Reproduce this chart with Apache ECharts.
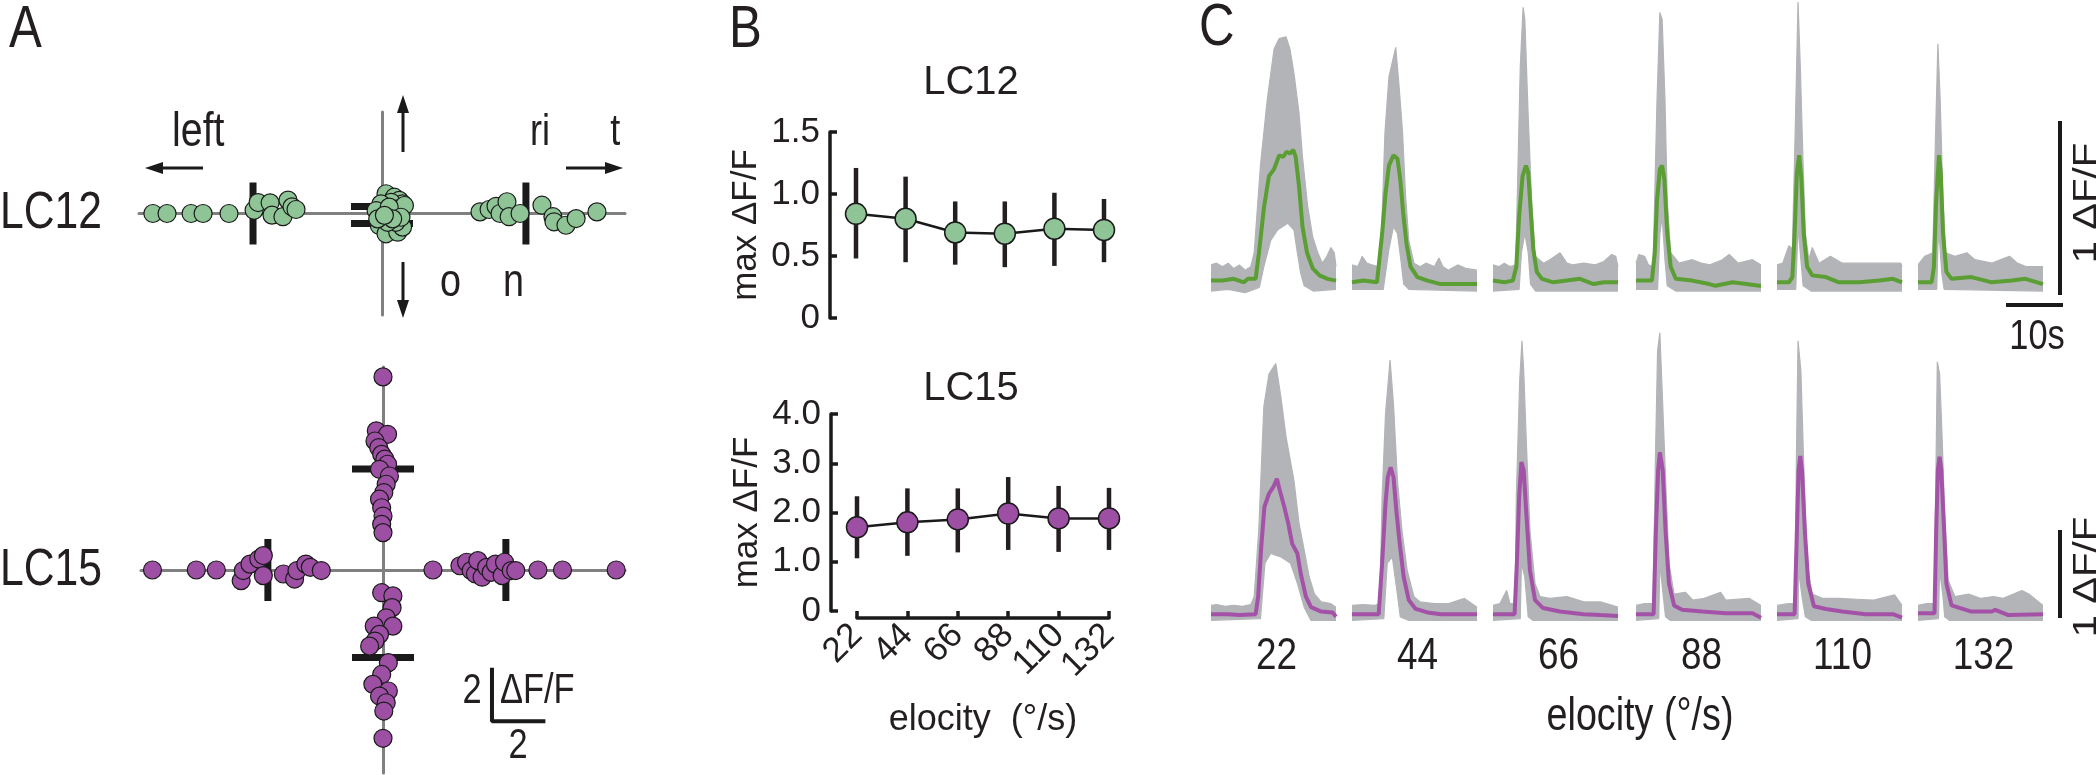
<!DOCTYPE html>
<html><head><meta charset="utf-8">
<script src="https://cdn.jsdelivr.net/npm/echarts@6/dist/echarts.min.js"></script>
<style>html,body{margin:0;padding:0;background:#fff}#c{width:2100px;height:775px}</style>
</head><body><div id="c"></div>
<script>
// ---------------- DATA ----------------
// Panel A: distance from centre (ΔF/F) and small perpendicular offset for each cell
const lc12LeftDist  = [8.58,8.05,7.15,6.70,5.73,4.79,4.64,4.19,4.12,3.71,3.52,3.37,3.22];
const lc12LeftOff   = [0,0,0,0,0,0.12,0.41,0.40,-0.06,-0.12,0.50,0.25,0.15];
const lc12RightDist = [3.67,4.01,4.27,4.42,4.68,4.76,5.17,5.99,6.40,6.44,6.89,7.27,8.05];
const lc12RightOff  = [0.06,0.15,0.27,0,0.44,-0.12,0,0.31,-0.12,-0.31,-0.44,-0.19,0.06];
const lc12UpDist    = [0.74,0.61,0.49,0.36,0.42,0.36,0.11,0.17,0.30,0.24];
const lc12UpOff     = [0.15,0.46,0.65,0.77,0.34,-0.04,-0.22,0.59,0.84,0.27];
const lc12DownDist  = [0.45,0.76,0.70,0.51,0.33,0.33,0.14,0.20,0.20,0.07];
const lc12DownOff   = [-0.10,0.15,0.59,0.77,0.52,0.21,0.71,0.40,-0.16,0.09];
const lc12ArmMeans  = [4.83,5.39,0.26,0.37]; // left, right, up, down

const lc15LeftDist  = [8.63,6.99,6.24,5.31,5.23,4.98,4.65,4.48,4.48,3.73,3.31,3.22,2.89,2.72,2.31];
const lc15LeftOff   = [0,0,0,-0.40,-0.02,0.22,0.41,0.54,-0.21,-0.15,-0.34,-0.02,0.22,0.10,-0.02];
const lc15RightDist = [1.87,2.88,3.13,3.30,3.46,3.55,3.71,3.88,4.05,4.21,4.46,4.55,4.80,4.97,5.80,6.72,8.73];
const lc15RightOff  = [0,0.16,0.29,-0.02,-0.15,0.35,-0.27,0.10,-0.09,0.22,-0.21,0.29,-0.02,-0.02,0,0,0];
const lc15UpDist    = [7.23,5.21,5.08,4.83,4.58,4.33,4.15,3.96,3.77,3.52,3.21,2.90,2.65,2.33,2.02,1.71,1.40];
const lc15UpOff     = [0,-0.25,0.17,-0.30,-0.16,-0.05,0.07,0.17,-0.13,0.24,0.12,0.03,-0.13,-0.05,0,-0.05,0];
const lc15DownDist  = [0.85,0.97,1.41,1.79,2.10,2.10,2.41,2.66,2.85,3.47,3.91,4.28,4.53,4.72,4.97,5.28,6.30];
const lc15DownOff   = [-0.05,0.37,0.34,0.12,0.37,-0.33,-0.13,-0.30,-0.50,0.20,-0.05,-0.38,0.20,-0.13,0.12,0.03,0];
const lc15ArmMeans  = [4.31,4.60,3.78,3.28]; // left, right, up, down
const aScaleBar = [4.08,-5.66,2]; // corner x, corner y, length (ΔF/F)

// Panel B
const velocities = ['22','44','66','88','110','132'];
const lc12Max = [0.84,0.80,0.69,0.68,0.72,0.71];
const lc12Hi  = [1.21,1.14,0.94,0.94,1.01,0.96];
const lc12Lo  = [0.48,0.45,0.43,0.41,0.42,0.45];
const lc15Max = [1.70,1.80,1.86,1.98,1.88,1.88];
const lc15Hi  = [2.33,2.49,2.49,2.72,2.54,2.50];
const lc15Lo  = [1.07,1.12,1.19,1.24,1.20,1.24];

// Panel C: [time s, ΔF/F] mean trace and the envelope of the single-cell traces
const lc12TraceMean = [
 [[0,0],[2,0],[4,0.01],[5.8,-0.01],[6.5,0.01],[7.85,0.01],[8.44,0.16],[9.32,0.42],[10.2,0.6],[11.1,0.64],[12.0,0.72],[12.7,0.71],[13.3,0.74],[13.9,0.73],[14.5,0.75],[14.9,0.71],[15.5,0.54],[16.1,0.31],[16.9,0.16],[17.9,0.07],[19.1,0.03],[20.5,0.01],[22,0]],
 [[0,-0.01],[2,0],[4.4,-0.01],[4.7,0],[5.3,0.27],[5.9,0.5],[6.5,0.66],[7.3,0.72],[8.0,0.70],[8.5,0.58],[9.0,0.39],[9.6,0.21],[10.3,0.08],[11.5,0.02],[13.3,0],[15.6,-0.02],[18.0,-0.02],[20.4,-0.02],[22,-0.02]],
 [[0,0],[2,-0.01],[3.5,0],[4.1,0.08],[4.6,0.37],[5.2,0.6],[5.8,0.66],[6.2,0.62],[6.7,0.37],[7.1,0.18],[7.7,0.05],[8.6,0.01],[10.6,-0.01],[13,0],[15.3,0.01],[17.7,-0.02],[19.5,-0.01],[22,-0.01]],
 [[0,0],[2.8,0],[3.3,0.16],[3.7,0.46],[4.2,0.64],[4.6,0.66],[5.0,0.58],[5.5,0.27],[6.1,0.08],[7.0,0.01],[9.9,0],[12.9,-0.02],[14.0,-0.03],[17.0,-0.01],[19.4,-0.02],[21.7,-0.03],[22,-0.03]],
 [[0,-0.01],[2.1,-0.01],[2.7,0.02],[3.1,0.27],[3.5,0.62],[3.9,0.72],[4.3,0.58],[4.7,0.27],[5.3,0.08],[6.2,0.03],[8.6,0.02],[10.9,-0.01],[14.5,-0.01],[18.0,0],[20.4,0.01],[22,-0.01]],
 [[0,-0.01],[2.4,-0.01],[2.8,0.08],[3.2,0.46],[3.7,0.72],[4.0,0.62],[4.4,0.27],[5.0,0.05],[5.9,0.01],[9.4,0.02],[13.0,-0.01],[16.5,0],[18.9,0.01],[22,-0.02]]
];
const lc12TraceUpper = [
 [[0,0.09],[1,0.1],[2,0.08],[3,0.1],[4,0.07],[5,0.09],[6,0.06],[7,0.08],[7.6,0.16],[8.7,0.66],[9.9,1.04],[11.1,1.33],[12.0,1.39],[13.2,1.4],[13.9,1.33],[14.6,1.19],[15.5,0.96],[16.1,0.71],[17.0,0.43],[17.9,0.25],[18.8,0.16],[19.6,0.1],[20.4,0.14],[21.1,0.19],[21.7,0.16],[22,0.08]],
 [[0,0.09],[1,0.08],[1.8,0.14],[2.6,0.1],[3.5,0.09],[4.5,0.08],[5.0,0.08],[5.8,0.85],[6.5,1.17],[7.7,1.34],[8.3,1.11],[8.9,0.85],[9.4,0.5],[10.0,0.23],[10.9,0.1],[12,0.08],[13,0.1],[14.5,0.08],[15.3,0.13],[16,0.08],[17,0.06],[18.6,0.09],[20,0.07],[22,0.06]],
 [[0,0.09],[1,0.08],[2,0.1],[3,0.08],[4.0,0.09],[4.4,0.66],[4.8,1.23],[5.3,1.57],[5.6,1.5],[6.2,0.94],[6.8,0.46],[7.4,0.14],[8.9,0.1],[10,0.12],[11.8,0.16],[13,0.1],[14,0.09],[16,0.1],[18,0.09],[19.5,0.11],[20.9,0.15],[21.6,0.14],[22,0.08]],
 [[0,0.1],[0.5,0.15],[1.5,0.14],[2.2,0.09],[3.0,0.08],[3.7,1.04],[4.2,1.54],[4.6,1.5],[5.1,1.04],[5.5,0.46],[6.1,0.16],[7.6,0.1],[9.9,0.12],[11.5,0.1],[13,0.09],[15.2,0.12],[16.4,0.15],[18,0.1],[20.5,0.12],[22,0.09]],
 [[0,0.09],[1,0.1],[2.1,0.2],[2.7,0.18],[3.2,0.85],[3.7,1.6],[4.1,1.23],[4.6,0.66],[5.0,0.27],[5.6,0.12],[6.2,0.19],[7.4,0.1],[9.4,0.14],[11.5,0.1],[14.5,0.1],[18,0.1],[20.4,0.1],[21.8,0.1],[22,0.08]],
 [[0,0.09],[1.2,0.14],[2.6,0.16],[3.1,0.85],[3.5,1.36],[3.9,1.04],[4.4,0.46],[4.9,0.16],[6.5,0.14],[8.6,0.16],[10,0.12],[13,0.1],[16.1,0.14],[17.5,0.1],[19,0.08],[22,0.08]]
];
const lc12TraceLower = [
 [[0,-0.06],[3,-0.05],[6,-0.07],[8.5,-0.04],[9.3,0.08],[10.5,0.23],[11.7,0.29],[13.5,0.33],[14.6,0.29],[15.2,0.16],[15.8,0.04],[16.4,-0.03],[18,-0.06],[22,-0.05]],
 [[0,-0.05],[5.5,-0.05],[6.5,0.18],[7.3,0.31],[8.0,0.27],[8.6,0.12],[9.1,-0.02],[10,-0.05],[22,-0.06]],
 [[0,-0.06],[4.6,-0.05],[5.0,0.16],[5.6,0.27],[6.2,0.16],[6.6,-0.02],[7.5,-0.06],[22,-0.06]],
 [[0,-0.05],[3.8,-0.05],[4.2,0.27],[4.6,0.37],[5.1,0.12],[5.5,-0.03],[7,-0.06],[22,-0.06]],
 [[0,-0.05],[3.3,-0.05],[3.7,0.31],[4.1,0.16],[4.6,-0.03],[6,-0.06],[22,-0.06]],
 [[0,-0.05],[3.3,-0.05],[3.5,0.2],[3.7,0.27],[4.2,0.04],[4.6,-0.05],[22,-0.06]]
];
const lc15TraceMean = [
 [[0,0],[3,0],[5,-0.01],[7.85,0],[8.3,0.2],[8.85,0.77],[9.4,1.22],[10.2,1.37],[11.0,1.45],[11.6,1.54],[12.1,1.41],[12.9,1.22],[13.6,1.03],[14.3,0.8],[15.2,0.69],[15.8,0.46],[16.7,0.2],[17.6,0.08],[19.4,0.03],[21.4,0.02],[22,-0.03]],
 [[0,0],[4.7,0],[5.3,0.58],[5.9,1.26],[6.3,1.56],[6.8,1.67],[7.3,1.56],[7.8,1.18],[8.4,0.8],[9.1,0.42],[10.0,0.16],[11.2,0.06],[13.3,0.02],[15.6,0],[19.2,0],[22,0]],
 [[0,0],[3.8,0],[4.2,0.58],[4.6,1.33],[5.0,1.73],[5.4,1.64],[5.9,1.11],[6.5,0.5],[7.4,0.16],[8.8,0.07],[11.8,0.03],[15.9,0],[18.9,-0.01],[22,-0.02]],
 [[0,0],[3.1,0],[3.5,0.95],[3.9,1.64],[4.2,1.84],[4.7,1.64],[5.2,0.95],[5.8,0.35],[6.7,0.1],[8.1,0.05],[11.7,0.03],[15.8,0.01],[20.5,0.01],[22,-0.04]],
 [[0,0],[3.1,0],[3.5,0.95],[3.8,1.64],[4.1,1.8],[4.4,1.64],[4.9,0.95],[5.5,0.35],[6.5,0.09],[8.6,0.06],[11.5,0.03],[15.6,0],[20.4,0],[22,-0.04]],
 [[0,0.01],[2.9,0.01],[3.2,0.95],[3.5,1.64],[3.8,1.79],[4.1,1.64],[4.6,0.95],[5.0,0.35],[5.9,0.1],[9.4,0.03],[13.0,0.03],[13.6,0.05],[15.9,-0.01],[22,0]]
];
const lc15TraceUpper = [
 [[0,0.1],[1,0.11],[2.5,0.09],[4,0.1],[5.5,0.09],[7,0.11],[7.6,0.2],[8.4,0.95],[9.3,2.36],[10.2,2.73],[11.4,2.85],[12.3,2.47],[13.2,2.02],[14.6,1.52],[15.5,1.03],[16.4,0.73],[17.3,0.42],[18.2,0.23],[19.4,0.14],[21.1,0.12],[22,0.08]],
 [[0,0.1],[2,0.11],[4,0.1],[4.9,0.12],[5.3,1.33],[5.9,2.28],[6.7,2.89],[7.3,2.39],[8.0,1.52],[8.8,0.95],[9.7,0.5],[10.9,0.2],[12,0.14],[14.5,0.12],[17,0.12],[19.8,0.18],[22,0.08]],
 [[0,0.1],[1.2,0.12],[2.4,0.27],[3,0.12],[3.9,0.12],[4.1,1.33],[4.7,2.66],[5.1,3.11],[5.4,2.77],[5.9,1.9],[6.5,0.95],[7.4,0.35],[8.3,0.2],[10,0.18],[13,0.2],[16,0.14],[18.9,0.14],[22,0.08]],
 [[0,0.1],[1.5,0.12],[3.0,0.12],[3.4,1.71],[3.8,3.0],[4.2,3.2],[4.6,2.55],[5.1,1.71],[5.8,0.58],[6.7,0.23],[8.7,0.25],[10,0.16],[12,0.18],[14.9,0.25],[15.8,0.16],[19.9,0.18],[22,0.1]],
 [[0,0.1],[2,0.12],[3.2,0.12],[3.4,1.71],[3.7,3.11],[4.2,2.77],[4.7,1.71],[5.3,0.58],[6.2,0.23],[8,0.18],[11,0.18],[14,0.17],[17,0.16],[20.7,0.22],[22,0.1]],
 [[0,0.1],[1.5,0.12],[2.9,0.12],[3.1,1.33],[3.4,2.87],[3.8,2.73],[4.2,2.09],[4.7,1.14],[5.3,0.39],[6.5,0.2],[8.9,0.23],[11,0.18],[13.3,0.2],[15,0.18],[18.3,0.27],[19.5,0.23],[22,0.1]]
];
const lc15TraceLower = [
 [[0,-0.07],[8.7,-0.05],[9.5,0.58],[10.5,0.69],[12.3,0.65],[14.0,0.58],[15.2,0.35],[16.4,0.08],[17.6,-0.07],[22,-0.07]],
 [[0,-0.07],[5.6,-0.05],[6.2,0.58],[7.1,0.65],[7.9,0.27],[8.5,-0.03],[10,-0.07],[22,-0.07]],
 [[0,-0.07],[4.8,-0.05],[5.0,0.58],[5.6,0.42],[6.2,-0.03],[7,-0.07],[22,-0.07]],
 [[0,-0.07],[4.0,-0.05],[4.2,0.58],[4.7,0.27],[5.2,-0.03],[6,-0.07],[22,-0.07]],
 [[0,-0.07],[3.7,-0.05],[3.8,0.5],[4.4,0.2],[5.0,-0.03],[6,-0.07],[22,-0.07]],
 [[0,-0.07],[3.6,-0.05],[3.8,0.5],[4.4,0.2],[4.7,-0.03],[5.5,-0.07],[22,-0.07]]
];

// ---------------- STYLE / LAYOUT ----------------
const FONT = 'Liberation Sans, Arial, sans-serif';
const INK = '#231f20';
const GREEN = '#8fc596', PURPLE = '#9c4fa3', EDGE = '#1a1a1a';
const AXIS_GRAY = '#808080', TRACE_GRAY = '#b2b4b7';
const LINE_GREEN = '#5b9e34', LINE_PURPLE = '#a452a8';
const NARROW = 0.82; // horizontal squeeze for the condensed lettering of panels A and C

const chart = echarts.init(document.getElementById('c'), null, {renderer: 'canvas'});

const grid = [], xAxis = [], yAxis = [], series = [];
function addGrid(g) { grid.push(Object.assign({outerBoundsMode: 'none', containLabel: false}, g)); return grid.length - 1; }

// ---- Panel A ----
function crossAxes(gi, xr, yr) {
  const ax = {gridIndex: gi, type: 'value', min: -xr, max: xr,
    axisLine: {show: true, onZero: true, lineStyle: {color: AXIS_GRAY, width: 3}},
    axisTick: {show: false}, axisLabel: {show: false}, splitLine: {show: false}};
  xAxis.push(ax);
  yAxis.push(Object.assign({}, ax, {min: -yr, max: yr}));
}
function arm(dist, off, dir) {
  return dist.map((d, i) => {
    const o = off[i];
    if (dir === 'left') return [-d, o];
    if (dir === 'right') return [d, o];
    if (dir === 'up') return [o, d];
    return [o, -d];
  });
}
function crossSeries(ai, arms, means, fill) {
  series.push({type: 'scatter', xAxisIndex: ai, yAxisIndex: ai, symbol: 'rect', symbolSize: [7, 62],
    itemStyle: {color: EDGE, opacity: 1}, z: 2, silent: true,
    data: [[-means[0], 0], [means[1], 0]]});
  series.push({type: 'scatter', xAxisIndex: ai, yAxisIndex: ai, symbol: 'rect', symbolSize: [62, 7],
    itemStyle: {color: EDGE, opacity: 1}, z: 2, silent: true,
    data: [[0, means[2]], [0, -means[3]]]});
  series.push({type: 'scatter', xAxisIndex: ai, yAxisIndex: ai, symbol: 'circle', symbolSize: 18,
    itemStyle: {color: fill, borderColor: EDGE, borderWidth: 1.2, opacity: 1}, z: 3, silent: true,
    data: [].concat(arm(arms[0], arms[1], 'left'), arm(arms[2], arms[3], 'right'),
                    arm(arms[4], arms[5], 'up'), arm(arms[6], arms[7], 'down'))});
}
let gi = addGrid({left: 139, top: 112, width: 486, height: 203});
crossAxes(gi, 9.1, 3.8);
crossSeries(gi, [lc12LeftDist, lc12LeftOff, lc12RightDist, lc12RightOff, lc12UpDist, lc12UpOff, lc12DownDist, lc12DownOff], lc12ArmMeans, GREEN);
gi = addGrid({left: 141, top: 367, width: 484, height: 406});
crossAxes(gi, 9.06, 7.6);
crossSeries(gi, [lc15LeftDist, lc15LeftOff, lc15RightDist, lc15RightOff, lc15UpDist, lc15UpOff, lc15DownDist, lc15DownOff], lc15ArmMeans, PURPLE);
series.push({type: 'line', xAxisIndex: gi, yAxisIndex: gi, symbol: 'none', silent: true,
  lineStyle: {color: EDGE, width: 4}, z: 4,
  data: [[aScaleBar[0], aScaleBar[1] + aScaleBar[2]], [aScaleBar[0], aScaleBar[1]], [aScaleBar[0] + aScaleBar[2], aScaleBar[1]]]});

// ---- Panel B ----
const axisStyle = {color: EDGE, width: 3.5};
function errRender(params, api) {
  const x = api.value(0);
  const p1 = api.coord([x, api.value(1)]);
  const p2 = api.coord([x, api.value(2)]);
  return {type: 'line', shape: {x1: p1[0], y1: p1[1], x2: p2[0], y2: p2[1]},
          style: {stroke: INK, lineWidth: 4.5}};
}
function bPanel(g, yMax, yInt, showX, maxv, lo, hi, fill) {
  const i = addGrid(g);
  xAxis.push({gridIndex: i, type: 'category', data: velocities, boundaryGap: false,
    show: showX, offset: 7,
    axisLine: {show: true, onZero: false, lineStyle: axisStyle},
    axisTick: {show: true, inside: true, length: 7, interval: 0, lineStyle: axisStyle},
    axisLabel: {rotate: 45, interval: 0, fontSize: 35, fontFamily: FONT, color: INK, margin: 12},
    name: 'elocity  (°/s)', nameLocation: 'middle', nameGap: 84,
    nameTextStyle: {fontSize: 36, fontFamily: FONT, color: INK}});
  yAxis.push({gridIndex: i, type: 'value', min: 0, max: yMax, interval: yInt, offset: 26,
    axisLine: {show: true, lineStyle: axisStyle},
    axisTick: {show: true, inside: true, length: 7, lineStyle: axisStyle},
    axisLabel: {fontSize: 35, fontFamily: FONT, color: INK, margin: 10,
      formatter: v => v === 0 ? '0' : v.toFixed(1)},
    splitLine: {show: false},
    name: 'max ΔF/F', nameLocation: 'middle', nameGap: 66, nameRotate: 90,
    nameTextStyle: {fontSize: 35, fontFamily: FONT, color: INK}});
  series.push({type: 'custom', xAxisIndex: i, yAxisIndex: i, renderItem: errRender, z: 2, silent: true,
    data: velocities.map((v, k) => [k, lo[k], hi[k]])});
  series.push({type: 'line', xAxisIndex: i, yAxisIndex: i, data: maxv, z: 3, silent: true,
    symbol: 'circle', symbolSize: 21, showAllSymbol: true,
    itemStyle: {color: fill, borderColor: EDGE, borderWidth: 1.5, opacity: 1},
    lineStyle: {color: EDGE, width: 2.5}});
}
bPanel({left: 856, top: 132, width: 248, height: 186}, 1.5, 0.5, false, lc12Max, lc12Lo, lc12Hi, GREEN);
bPanel({left: 857, top: 414, width: 252, height: 197}, 4, 1, true, lc15Max, lc15Lo, lc15Hi, PURPLE);

// ---- Panel C ----
const cLefts = [1211, 1352, 1493, 1636, 1777, 1918];
const cWidth = 125;
function cRow(top, height, yMin, yMax, means, uppers, lowers, color) {
  cLefts.forEach((l, k) => {
    const i = addGrid({left: l, top: top, width: cWidth, height: height});
    xAxis.push({gridIndex: i, type: 'value', min: 0, max: 22, show: false, splitLine: {show: false}});
    yAxis.push({gridIndex: i, type: 'value', min: yMin, max: yMax, show: false, splitLine: {show: false}});
    const base = {type: 'line', xAxisIndex: i, yAxisIndex: i, symbol: 'none', silent: true};
    series.push(Object.assign({}, base, {data: uppers[k], z: 2,
      lineStyle: {color: TRACE_GRAY, width: 1.2},
      areaStyle: {color: TRACE_GRAY, opacity: 1, origin: 'start'}}));
    series.push(Object.assign({}, base, {data: lowers[k], z: 2,
      lineStyle: {color: TRACE_GRAY, width: 1.2},
      areaStyle: {color: '#ffffff', opacity: 1, origin: 'start'}}));
    series.push(Object.assign({}, base, {data: means[k], z: 3,
      lineStyle: {color: color, width: 4}}));
  });
}
cRow(2, 296, -0.1, 1.6, lc12TraceMean, lc12TraceUpper, lc12TraceLower, LINE_GREEN);
cRow(324, 299, -0.1, 3.3, lc15TraceMean, lc15TraceUpper, lc15TraceLower, LINE_PURPLE);

// ---------------- ANNOTATIONS ----------------
function txt(x, y, s, size, align, valign, rot, sx) {
  return {type: 'text', x: x, y: y, rotation: rot || 0, scaleX: sx || 1, silent: true,
    style: {text: s, font: size + 'px ' + FONT, fill: INK, textAlign: align || 'left', textVerticalAlign: valign || 'middle'}};
}
function ntxt(x, y, s, size, align, rot, sx) { return txt(x, y, s, size, align, 'middle', rot, sx || NARROW); }
function seg(x1, y1, x2, y2, w) {
  return {type: 'line', silent: true, shape: {x1, y1, x2, y2}, style: {stroke: EDGE, lineWidth: w || 3}};
}
function tri(pts) {
  return {type: 'polygon', silent: true, shape: {points: pts}, style: {fill: EDGE}};
}
const graphic = [
  ntxt(9, 30, 'A', 60), ntxt(729, 30, 'B', 60), ntxt(1199, 28, 'C', 60),
  ntxt(0, 214, 'LC12', 52), ntxt(0, 571, 'LC15', 52),
  // direction arrows
  seg(162, 168, 203, 168), tri([[145, 168], [163, 162], [163, 174]]),
  seg(566, 168, 606, 168), tri([[623, 168], [605, 162], [605, 174]]),
  seg(403, 112, 403, 152), tri([[403, 95], [397, 113], [409, 113]]),
  seg(403, 262, 403, 301), tri([[403, 318], [397, 300], [409, 300]]),
  ntxt(172, 133, 'left', 48), ntxt(530, 133, 'ri      t', 44), ntxt(440, 283, 'o    n', 46),
  // panel A scale-bar labels
  ntxt(472, 691, '2', 42, 'center'), ntxt(500, 691, 'ΔF/F', 42), ntxt(518, 746, '2', 42, 'center'),
  // panel B titles
  txt(971, 83, 'LC12', 40, 'center'), txt(971, 389, 'LC15', 40, 'center'),
  // panel C scale bars
  seg(2060, 121, 2060, 295, 4), seg(2006, 305, 2063, 305, 4),
  ntxt(2037, 337, '10s', 42, 'center'),
  ntxt(2087, 203, '1 ΔF/F', 34, 'center', Math.PI / 2, 1.18),
  seg(2060, 530, 2060, 618, 4),
  ntxt(2087, 577, '1 ΔF/F', 34, 'center', Math.PI / 2, 1.18),
  ntxt(1640, 717, 'elocity (°/s)', 46, 'center')
].concat(velocities.map((v, k) => ntxt(cLefts[k] + cWidth / 2 + 3, 657, v, 45, 'center')));

chart.setOption({
  animation: false,
  backgroundColor: '#ffffff',
  textStyle: {fontFamily: FONT},
  grid: grid, xAxis: xAxis, yAxis: yAxis, series: series, graphic: graphic
});
</script></body></html>
